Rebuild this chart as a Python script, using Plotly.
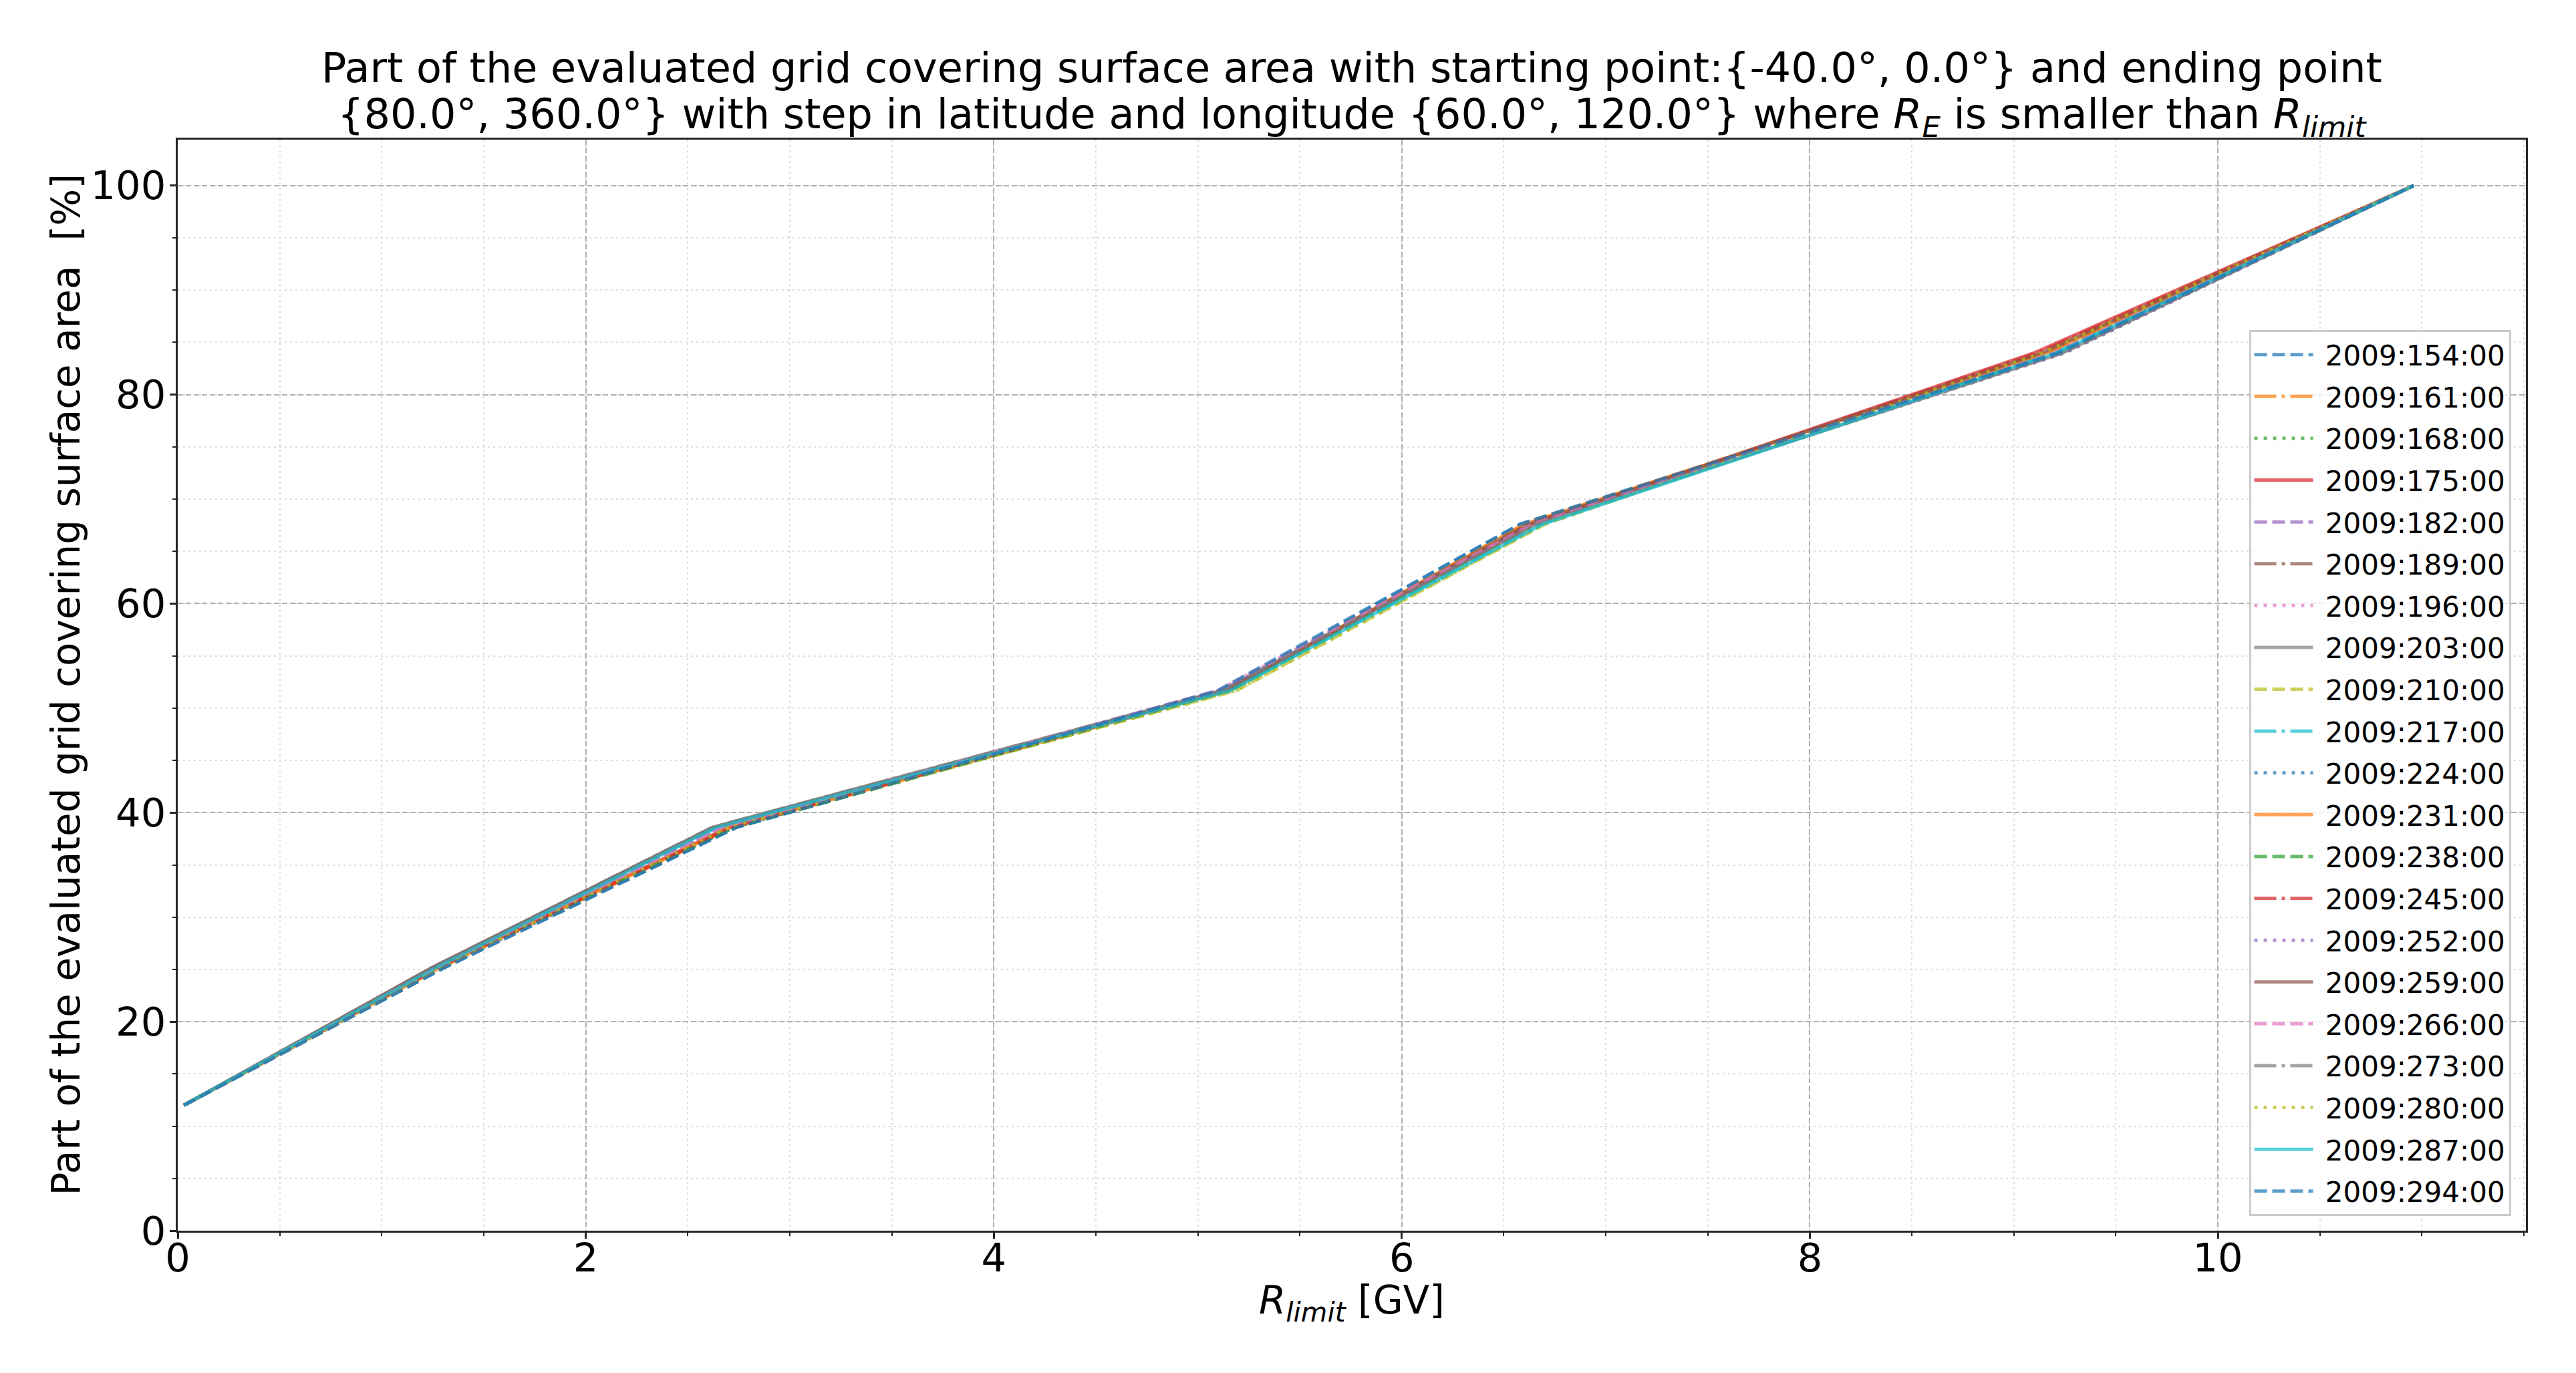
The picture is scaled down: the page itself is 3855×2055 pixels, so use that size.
import plotly.graph_objects as go

# ---- data ----
labels = ["2009:154:00", "2009:161:00", "2009:168:00", "2009:175:00", "2009:182:00",
          "2009:189:00", "2009:196:00", "2009:203:00", "2009:210:00", "2009:217:00",
          "2009:224:00", "2009:231:00", "2009:238:00", "2009:245:00", "2009:252:00",
          "2009:259:00", "2009:266:00", "2009:273:00", "2009:280:00", "2009:287:00",
          "2009:294:00"]

# cumulative surface-area percentage at each knot (shared by all series)
knot_pct = [12.0, 25.2, 38.6, 51.7, 67.6, 84.0, 100.0]

# rigidity [GV] of each knot, per series
r_start = [0.03] * 21
r_k1 = [1.31, 1.29, 1.28, 1.27, 1.28, 1.25, 1.27, 1.25, 1.29, 1.27, 1.30,
        1.29, 1.27, 1.28, 1.27, 1.25, 1.27, 1.25, 1.29, 1.27, 1.31]
r_k2 = [2.74, 2.72, 2.73, 2.70, 2.68, 2.63, 2.67, 2.62, 2.70, 2.64, 2.72,
        2.71, 2.73, 2.71, 2.68, 2.63, 2.67, 2.62, 2.70, 2.64, 2.74]
r_k3 = [5.12, 5.15, 5.16, 5.14, 5.13, 5.14, 5.10, 5.12, 5.19, 5.16, 5.13,
        5.15, 5.16, 5.14, 5.13, 5.14, 5.10, 5.12, 5.19, 5.16, 5.10]
r_k4 = [6.58, 6.60, 6.65, 6.64, 6.64, 6.62, 6.64, 6.66, 6.70, 6.68, 6.62,
        6.60, 6.65, 6.64, 6.64, 6.62, 6.64, 6.66, 6.70, 6.69, 6.58]
r_k5 = [9.20, 9.16, 9.25, 9.10, 9.24, 9.15, 9.20, 9.24, 9.14, 9.20, 9.20,
        9.16, 9.22, 9.12, 9.25, 9.14, 9.20, 9.23, 9.14, 9.21, 9.22]
r_end = [10.96] * 21

x_range = [0, 11.51]
y_range = [0, 104.4]
x_major = [0, 2, 4, 6, 8, 10]
y_major = [0, 20, 40, 60, 80, 100]

title_line1 = "Part of the evaluated grid covering surface area with starting point:{-40.0°, 0.0°} and ending point"
title_line2 = ("{80.0°, 360.0°} with step in latitude and longitude {60.0°, 120.0°} where "
               "<i>R</i><sub><i>E</i></sub> is smaller than <i>R</i><sub><i>limit</i></sub>")
x_title = "<i>R</i><sub><i>limit</i></sub> [GV]"
y_title = "Part of the evaluated grid covering surface area  [%]"

# ---- styles ----
colors = ["#1f77b4", "#ff7f0e", "#2ca02c", "#d62728", "#9467bd",
          "#8c564b", "#e377c2", "#7f7f7f", "#bcbd22", "#17becf"]
dashes = ["19px,8px", "33px,8px,5px,8px", "5px,9px", "solid"]

FONT = "DejaVu Sans"
OFF = 8  # default page margin of the html body
W, H = 3855 - OFF, 2055 - OFF
L, T = 266 - OFF, 209 - OFF
R = W - (3780 - OFF)
B = H - (1842 - OFF)
PH = H - T - B
PW = W - L - R

fig = go.Figure()
for i, lab in enumerate(labels):
    xs = [r_start[i], r_k1[i], r_k2[i], r_k3[i], r_k4[i], r_k5[i], r_end[i]]
    fig.add_trace(go.Scatter(
        x=xs, y=knot_pct, mode="lines", name="\u00a0" + lab, opacity=0.72,
        legendgroup=lab,
        line=dict(color=colors[i % 10], width=5, dash=dashes[i % 4]),
    ))

grid_major = dict(showgrid=True, gridcolor="#b0b0b0", gridwidth=2, griddash="8px,4px")
axis_common = dict(
    showline=True, linecolor="#262626", linewidth=3, mirror=True,
    ticks="outside", ticklen=9, tickwidth=3, tickcolor="#262626",
    tickfont=dict(family=FONT, size=59, color="black"),
    zeroline=False,
)

fig.update_xaxes(
    range=x_range, tickvals=x_major, ticktext=[str(v) for v in x_major],
    ticklabelstandoff=-22,
    minor=dict(dtick=0.5, tick0=0, ticks="outside", ticklen=5, tickwidth=2,
               tickcolor="#262626", showgrid=True, gridcolor="#dddddd",
               gridwidth=2, griddash="3px,5px"),
    **grid_major, **axis_common,
)
fig.update_yaxes(
    range=y_range, tickvals=y_major, ticktext=[str(v) for v in y_major],
    ticklabelstandoff=-6,
    minor=dict(dtick=5, tick0=0, ticks="outside", ticklen=5, tickwidth=2,
               tickcolor="#262626", showgrid=True, gridcolor="#dddddd",
               gridwidth=2, griddash="3px,5px"),
    **grid_major, **axis_common,
)

def py(pix):  # reference pixel (from top) -> paper y
    return (H - B - (pix - OFF)) / PH

def px(pix):  # reference pixel (from left) -> paper x
    return ((pix - OFF) - L) / PW

annos = [
    dict(text=title_line1, x=0.5, y=py(101), font=dict(size=62)),
    dict(text=title_line2, x=0.5, y=py(174), font=dict(size=62)),
    dict(text=x_title, x=0.5, y=py(1950), font=dict(size=58)),
    dict(text=y_title, x=px(98), y=0.5, textangle=-90, font=dict(size=58)),
]
for a in annos:
    a["font"].update(family=FONT, color="black")
    fig.add_annotation(xref="paper", yref="paper", xanchor="center", yanchor="middle",
                       showarrow=False, **a)

fig.update_layout(
    width=W, height=H,
    margin=dict(l=L, r=R, t=T, b=B, autoexpand=False),
    paper_bgcolor="white", plot_bgcolor="white",
    font=dict(family=FONT, color="black"),
    legend=dict(
        x=0.9936, y=0.0135, xanchor="right", yanchor="bottom",
        bgcolor="rgba(255,255,255,0.8)", bordercolor="#cccccc", borderwidth=3,
        font=dict(family=FONT, size=42, color="black"),
        itemwidth=88, tracegroupgap=5,
    ),
    showlegend=True,
)

fig.write_html("out.html")
